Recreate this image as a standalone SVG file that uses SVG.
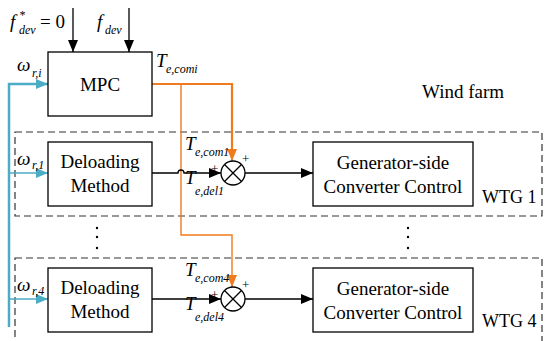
<svg xmlns="http://www.w3.org/2000/svg" width="548" height="341" viewBox="0 0 548 341">
<style>
.box{fill:#fff;stroke:#000;stroke-width:1.3}
.dash{fill:none;stroke:#333;stroke-width:1.2;stroke-dasharray:7,4}
.t{font-family:"Liberation Serif","Times New Roman",serif;font-size:19px;fill:#000}
.w{font-family:"Liberation Serif","Times New Roman",serif;font-size:18px;fill:#000}
.p{font-family:"Liberation Serif","Times New Roman",serif;font-size:13px;fill:#000}
.m{font-family:"Liberation Serif","Times New Roman",serif;font-style:italic;fill:#000}
.big{font-size:19px}
.sub{font-size:12px}
.ln{fill:none;stroke:#000;stroke-width:1.3}
.bl{fill:none;stroke:#4BACC6}
.or{fill:none;stroke:#F07A1E}
</style>
<defs>
<marker id="ab" markerWidth="12" markerHeight="10" refX="12" refY="5" orient="auto" markerUnits="userSpaceOnUse"><path d="M0,0 L12,5 L0,10 Z" fill="#000"/></marker>
<marker id="abl" markerWidth="12" markerHeight="10" refX="12" refY="5" orient="auto" markerUnits="userSpaceOnUse"><path d="M0,0 L12,5 L0,10 Z" fill="#4BACC6"/></marker>
<marker id="aor" markerWidth="12" markerHeight="10" refX="12" refY="5" orient="auto" markerUnits="userSpaceOnUse"><path d="M0,0 L12,5 L0,10 Z" fill="#F07A1E"/></marker>
</defs>

<g id="wtg1-frame"><rect class="dash" x="15" y="132" width="527" height="84"/><text class="w" x="482" y="203">WTG 1</text></g>
<g id="wtg4-frame"><rect class="dash" x="15" y="258" width="527" height="90"/><text class="w" x="482" y="327">WTG 4</text></g>
<g id="windfarm"><text class="t" x="422" y="98">Wind farm</text></g>

<g id="connectors">
<line class="ln" x1="73" y1="8" x2="73" y2="52" marker-end="url(#ab)"/>
<line class="ln" x1="129" y1="8" x2="129" y2="52" marker-end="url(#ab)"/>
<path class="bl" stroke-width="2.5" d="M9,327 V84 H36"/>
<line class="bl" stroke-width="2.5" x1="36" y1="84" x2="48" y2="84" marker-end="url(#abl)"/>
<line class="bl" stroke-width="1.5" x1="9" y1="173" x2="48" y2="173" marker-end="url(#abl)"/>
<line class="bl" stroke-width="1.5" x1="9" y1="299" x2="48" y2="299" marker-end="url(#abl)"/>
<path class="or" stroke-width="2.2" d="M152,84 H232 V150"/>
<line class="or" stroke-width="1.5" x1="232" y1="148" x2="232" y2="161" marker-end="url(#aor)"/>
<path class="or" stroke-width="1.4" d="M181,84 V235 H232 V287" marker-end="url(#aor)"/>
<path class="ln" d="M152,173 H178 A3,3 0 0 1 184,173 H221" marker-end="url(#ab)"/>
<line class="ln" x1="245" y1="173" x2="313" y2="173" marker-end="url(#ab)"/>
<line class="ln" x1="152" y1="299" x2="221" y2="299" marker-end="url(#ab)"/>
<line class="ln" x1="245" y1="299" x2="313" y2="299" marker-end="url(#ab)"/>
</g>

<g id="mpc">
<rect class="box" x="48" y="52" width="104" height="64"/>
<text class="t" x="100" y="91" text-anchor="middle">MPC</text>
</g>

<g id="labels-top">
<text class="m big" x="10" y="28">f</text>
<text class="m sub" x="19" y="19">*</text>
<text class="m sub" x="19" y="34">dev</text>
<text class="t" x="40" y="28">= 0</text>
<text class="m big" x="97" y="28">f</text>
<text class="m sub" x="105" y="34">dev</text>
<text class="m big" x="156" y="67">T</text>
<text class="m sub" x="166" y="73">e,comi</text>
<text class="m big" x="17" y="71">ω</text>
<text class="m sub" x="32" y="77">r,i</text>
</g>

<g id="deloading1">
<rect class="box" x="48" y="142" width="104" height="64"/>
<text class="t" x="100" y="168" text-anchor="middle">Deloading</text>
<text class="t" x="100" y="192" text-anchor="middle">Method</text>
</g>
<g id="sum1">
<circle cx="233" cy="173" r="12" fill="#fff" stroke="#000" stroke-width="1.3"/>
<path class="ln" d="M224.5,164.5 L241.5,181.5 M241.5,164.5 L224.5,181.5"/>
<text class="p" x="211" y="173">+</text>
<text class="p" x="242" y="163">+</text>
</g>
<g id="gsc1">
<rect class="box" x="313" y="142" width="160" height="64"/>
<text class="t" x="393" y="169" text-anchor="middle">Generator-side</text>
<text class="t" x="393" y="193" text-anchor="middle">Converter Control</text>
</g>
<g id="labels1">
<text class="m big" x="17" y="165">ω</text>
<text class="m sub" x="32" y="169">r,1</text>
<text class="m big" x="185" y="150">T</text>
<text class="m sub" x="195" y="156">e,com1</text>
<text class="m big" x="185" y="184">T</text>
<text class="m sub" x="195" y="195">e,del1</text>
</g>

<g id="dots">
<circle cx="97" cy="228" r="1.2" fill="#000"/><circle cx="97" cy="237" r="1.2" fill="#000"/><circle cx="97" cy="248" r="1.2" fill="#000"/>
<circle cx="408" cy="228" r="1.2" fill="#000"/><circle cx="408" cy="237" r="1.2" fill="#000"/><circle cx="408" cy="248" r="1.2" fill="#000"/>
</g>

<g id="deloading4">
<rect class="box" x="48" y="268" width="104" height="64"/>
<text class="t" x="100" y="294" text-anchor="middle">Deloading</text>
<text class="t" x="100" y="318" text-anchor="middle">Method</text>
</g>
<g id="sum4">
<circle cx="233" cy="299" r="12" fill="#fff" stroke="#000" stroke-width="1.3"/>
<path class="ln" d="M224.5,290.5 L241.5,307.5 M241.5,290.5 L224.5,307.5"/>
<text class="p" x="211" y="299">+</text>
<text class="p" x="242" y="289">+</text>
</g>
<g id="gsc4">
<rect class="box" x="313" y="268" width="160" height="64"/>
<text class="t" x="393" y="295" text-anchor="middle">Generator-side</text>
<text class="t" x="393" y="319" text-anchor="middle">Converter Control</text>
</g>
<g id="labels4">
<text class="m big" x="17" y="291">ω</text>
<text class="m sub" x="32" y="295">r,4</text>
<text class="m big" x="185" y="276">T</text>
<text class="m sub" x="195" y="282">e,com4</text>
<text class="m big" x="185" y="310">T</text>
<text class="m sub" x="195" y="321">e,del4</text>
</g>
</svg>
